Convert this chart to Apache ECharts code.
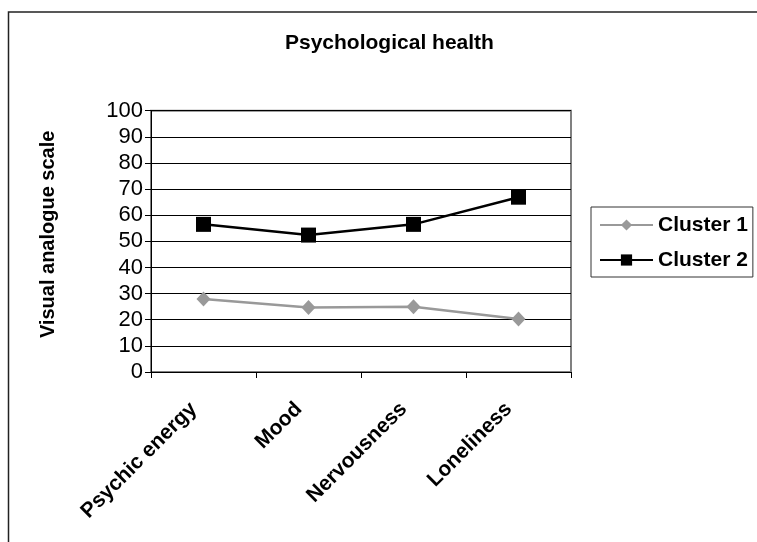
<!DOCTYPE html>
<html>
<head>
<meta charset="utf-8">
<script src="https://cdn.jsdelivr.net/npm/echarts@6/dist/echarts.min.js"></script>
<style>
html,body{margin:0;padding:0;background:#fff;}
#chart{width:757px;height:542px;}
</style>
</head>
<body>
<div id="chart"></div>
<script>
const categories = ["Psychic energy", "Mood", "Nervousness", "Loneliness"];
const cluster1 = [27.9, 24.7, 25.0, 20.3];
const cluster2 = [56.5, 52.4, 56.5, 66.9];
const yTicks = { min: 0, max: 100, interval: 10 };
const titleText = "Psychological health";
const yName = "Visual analogue scale";

const FONT = '"Liberation Sans", Arial, sans-serif';
const chart = echarts.init(document.getElementById('chart'), null, { renderer: 'canvas' });
chart.setOption({
  animation: false,
  backgroundColor: '#ffffff',
  graphic: [{
    type: 'rect',
    shape: { x: 8.5, y: 12, width: 900, height: 900 },
    style: { fill: 'none', stroke: '#222', lineWidth: 1.5 },
    silent: true, z: -1
  }],
  title: {
    text: titleText,
    left: 280, top: 28,
    textStyle: { fontFamily: FONT, fontWeight: 'bold', fontSize: 21, color: '#000' }
  },
  grid: {
    left: 151, right: 186, top: 110.7, bottom: 170,
    show: true, borderColor: '#808080', borderWidth: 2, backgroundColor: '#fff'
  },
  legend: {
    orient: 'vertical',
    left: 591, top: 207,
    padding: [7, 5, 6, 8],
    itemWidth: 53, itemHeight: 14, itemGap: 13,
    borderColor: '#333', borderWidth: 1,
    textStyle: { fontFamily: FONT, fontWeight: 'bold', fontSize: 21, color: '#000', lineHeight: 22 },
    data: ['Cluster 1', 'Cluster 2']
  },
  xAxis: {
    type: 'category',
    data: categories,
    boundaryGap: true,
    axisLine: { lineStyle: { color: '#000', width: 1 } },
    axisTick: { show: true, length: 6, lineStyle: { color: '#000' } },
    axisLabel: {
      rotate: 45, interval: 0, margin: 24,
      padding: [0, 14, 0, 0],
      fontFamily: FONT, fontWeight: 'bold', fontSize: 21, color: '#000'
    },
    splitLine: { show: false }
  },
  yAxis: {
    type: 'value',
    min: yTicks.min, max: yTicks.max, interval: yTicks.interval,
    name: yName,
    nameLocation: 'middle',
    nameRotate: 90,
    nameGap: 93,
    nameTextStyle: { fontFamily: FONT, fontWeight: 'bold', fontSize: 20, color: '#000', padding: [0, 0, 0, 14] },
    axisLine: { show: true, lineStyle: { color: '#000', width: 1 } },
    axisTick: { show: true, length: 6, lineStyle: { color: '#000' } },
    axisLabel: { fontFamily: FONT, fontSize: 22, color: '#000', margin: 8 },
    splitLine: { show: true, lineStyle: { color: '#000', width: 1 } }
  },
  series: [
    {
      name: 'Cluster 1', type: 'line', data: cluster1,
      symbol: 'diamond', symbolSize: [14, 15],
      lineStyle: { color: '#999999', width: 2.5 },
      itemStyle: { color: '#999999' },
      z: 3
    },
    {
      name: 'Cluster 2', type: 'line', data: cluster2,
      symbol: 'rect', symbolSize: [15, 15],
      lineStyle: { color: '#000000', width: 2.5 },
      itemStyle: { color: '#000000' },
      z: 4
    }
  ]
});
</script>
</body>
</html>
